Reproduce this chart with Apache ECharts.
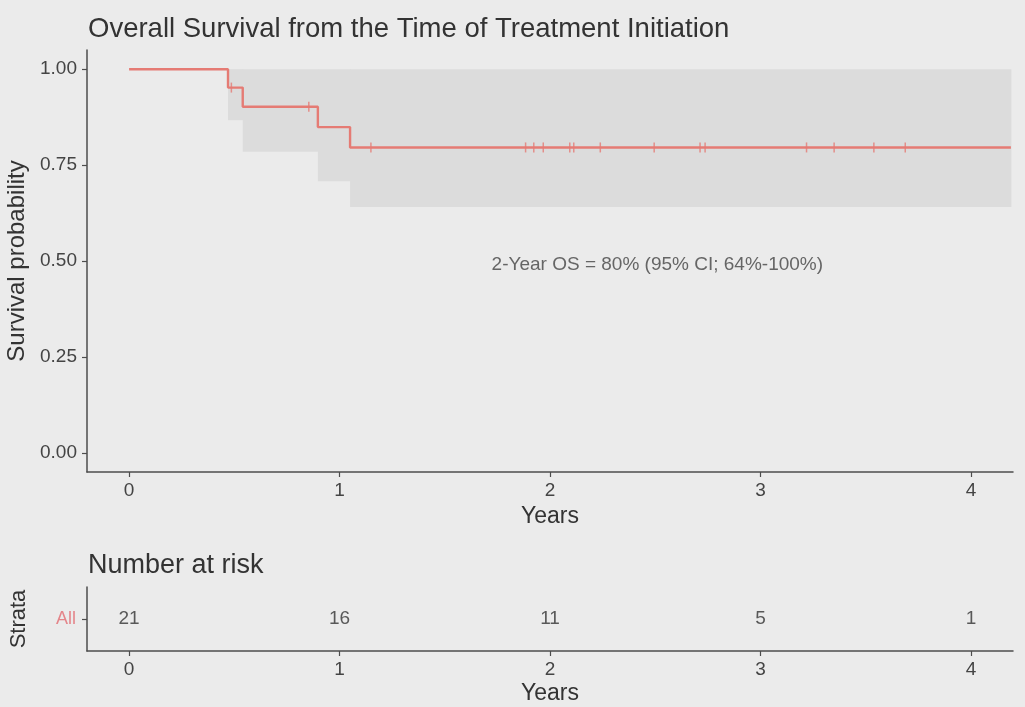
<!DOCTYPE html>
<html>
<head>
<meta charset="utf-8">
<script src="https://cdn.jsdelivr.net/npm/echarts@6/dist/echarts.min.js"></script>
<style>
html,body{margin:0;padding:0;background:#ebebeb;}
#c{width:1025px;height:707px;}
</style>
</head>
<body>
<div id="c"></div>
<script>
// Kaplan-Meier step curve (time in years, survival probability)
const kmTimes = [0, 0.47, 0.54, 0.897, 1.05, 4.19];
const kmSurv  = [1.0, 0.952, 0.902, 0.849, 0.796, 0.796];
// 95% CI bounds at each step
const ciLower = [1.0, 0.867, 0.785, 0.708, 0.641, 0.641];
const ciUpper = [1.0, 1.0, 1.0, 1.0, 1.0, 1.0];
// censoring times
const censorTimes = [0.486, 0.854, 1.149, 1.884, 1.923, 1.968, 2.094, 2.113, 2.239, 2.495, 2.713, 2.737, 3.219, 3.35, 3.539, 3.688];
// number at risk table
const riskTimes = [0, 1, 2, 3, 4];
const riskCounts = [21, 16, 11, 5, 1];
const strata = ['All'];
const xTicks = [0, 1, 2, 3, 4];
const yTicks = [0, 0.25, 0.5, 0.75, 1.0];
const annotationText = '2-Year OS = 80% (95% CI; 64%-100%)';
const annotationPos = [2.51, 0.49];

const lineColor = '#e57b74';
const axisColor = '#4d4d4d';
const textColor = '#444';
const FONT = 'Liberation Sans, Arial, sans-serif';

function survAt(t) {
  let s = kmSurv[0];
  for (let i = 0; i < kmTimes.length; i++) { if (kmTimes[i] <= t) s = kmSurv[i]; }
  return s;
}

const kmData = kmTimes.map((t, i) => [t, kmSurv[i]]);
const bandData = [];
for (let i = 0; i < kmTimes.length - 1; i++) {
  bandData.push([kmTimes[i], kmTimes[i + 1], ciLower[i], ciUpper[i]]);
}
const censorData = censorTimes.map(t => [t, survAt(t)]);
const riskData = riskTimes.map((t, i) => [t, 'All', riskCounts[i]]);

function xAxisCfg(gridIndex, gap) {
  return {
    type: 'value', gridIndex, min: -0.2, max: 4.2,
    name: 'Years', nameLocation: 'middle', nameGap: gap,
    nameTextStyle: {fontFamily: FONT, fontSize: 23, color: '#333'},
    axisLine: {show: true, onZero: false, lineStyle: {color: axisColor, width: 1.5}},
    axisTick: {show: true, length: 5, customValues: xTicks, lineStyle: {color: axisColor, width: 1.2}},
    axisLabel: {customValues: xTicks, fontFamily: FONT, fontSize: 19, color: textColor, margin: 9},
    splitLine: {show: false}
  };
}

const option = {
  backgroundColor: '#ebebeb',
  animation: false,
  title: [
    {text: 'Overall Survival from the Time of Treatment Initiation', left: 83, top: 10,
     textStyle: {fontFamily: FONT, fontSize: 27.5, fontWeight: 'normal', color: '#333'}},
    {text: 'Number at risk', left: 83, top: 547,
     textStyle: {fontFamily: FONT, fontSize: 27, fontWeight: 'normal', color: '#333'}}
  ],
  grid: [
    {left: 87, right: 12, top: 50, bottom: 235, containLabel: false, outerBoundsMode: 'none'},
    {left: 87, right: 12, top: 587, bottom: 56, containLabel: false, outerBoundsMode: 'none'}
  ],
  xAxis: [xAxisCfg(0, 33), xAxisCfg(1, 31)],
  yAxis: [
    {type: 'value', gridIndex: 0, min: -0.05, max: 1.05,
     name: 'Survival probability', nameLocation: 'middle', nameGap: 56,
     nameTextStyle: {fontFamily: FONT, fontSize: 24, color: '#333'},
     axisLine: {show: true, onZero: false, lineStyle: {color: axisColor, width: 1.5}},
     axisTick: {show: true, length: 5, customValues: yTicks, lineStyle: {color: axisColor, width: 1.2}},
     axisLabel: {customValues: yTicks, fontFamily: FONT, fontSize: 19, color: textColor, margin: 10,
                 formatter: v => v.toFixed(2)},
     splitLine: {show: false}},
    {type: 'category', gridIndex: 1, data: strata,
     name: 'Strata', nameLocation: 'middle', nameGap: 57,
     nameTextStyle: {fontFamily: FONT, fontSize: 22, color: '#333'},
     axisLine: {show: true, onZero: false, lineStyle: {color: axisColor, width: 1.5}},
     axisTick: {show: true, length: 5, alignWithLabel: true, lineStyle: {color: axisColor, width: 1.2}},
     axisLabel: {fontFamily: FONT, fontSize: 18, color: '#e4858a', margin: 11},
     splitLine: {show: false}}
  ],
  series: [
    {type: 'custom', xAxisIndex: 0, yAxisIndex: 0, silent: true, z: 1,
     data: bandData,
     renderItem: function (params, api) {
       const p1 = api.coord([api.value(0), api.value(3)]);
       const p2 = api.coord([api.value(1), api.value(2)]);
       return {type: 'rect', shape: {x: p1[0], y: p1[1], width: p2[0] - p1[0] + 0.5, height: p2[1] - p1[1]},
               style: {fill: '#dcdcdc'}};
     }},
    {type: 'line', xAxisIndex: 0, yAxisIndex: 0, step: 'end', data: kmData,
     symbol: 'none', lineStyle: {color: lineColor, width: 2.4}, z: 3, silent: true},
    {type: 'scatter', xAxisIndex: 0, yAxisIndex: 0, data: censorData,
     symbol: 'rect', symbolSize: [1.5, 10], itemStyle: {color: lineColor}, z: 4, silent: true},
    {type: 'scatter', xAxisIndex: 0, yAxisIndex: 0, data: [annotationPos],
     symbolSize: 0, silent: true,
     label: {show: true, position: 'inside', formatter: annotationText,
             fontFamily: FONT, fontSize: 19, color: '#444'}},
    {type: 'scatter', xAxisIndex: 1, yAxisIndex: 1, data: riskData,
     symbolSize: 0, silent: true,
     label: {show: true, position: 'inside', formatter: p => String(p.value[2]),
             fontFamily: FONT, fontSize: 19, color: '#333'}}
  ]
};

const chart = echarts.init(document.getElementById('c'), null, {renderer: 'canvas'});
chart.setOption(option);
</script>
</body>
</html>
